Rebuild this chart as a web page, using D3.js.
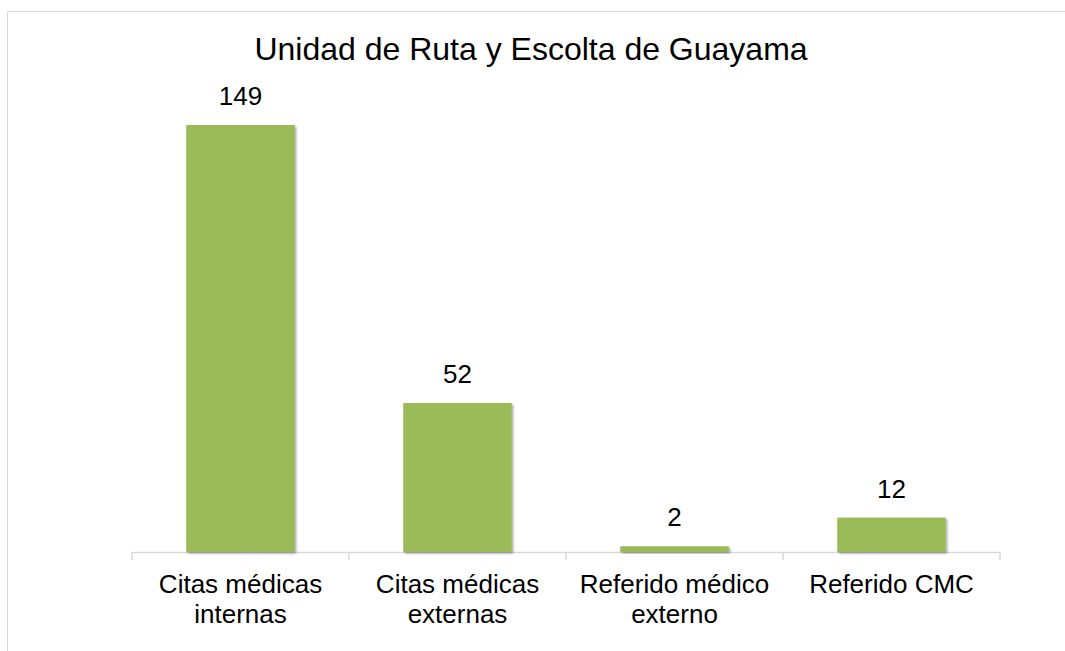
<!DOCTYPE html>
<html>
<head>
<meta charset="utf-8">
<script src="https://cdn.jsdelivr.net/npm/d3@7"></script>
<style>
  body { margin: 0; background: #fff; overflow: hidden; }
  svg { display: block; font-family: "Liberation Sans", Arial, sans-serif; }
</style>
</head>
<body>
<svg width="1065" height="651"></svg>
<script>
// chart data
var categories = [["Citas médicas", "internas"], ["Citas médicas", "externas"], ["Referido médico", "externo"], ["Referido CMC"]];
var values = [149, 52, 2, 12];
var title = "Unidad de Ruta y Escolta de Guayama";

var svg = d3.select("svg"),
    width = +svg.attr("width"),
    height = +svg.attr("height");

// soft shadow like the office chart bars
var defs = svg.append("defs");
defs.append("filter")
    .attr("id", "shadow")
    .attr("x", "-10%").attr("y", "-10%")
    .attr("width", "130%").attr("height", "130%")
    .append("feDropShadow")
    .attr("dx", 1.5).attr("dy", 1.5)
    .attr("stdDeviation", 1)
    .attr("flood-color", "#000")
    .attr("flood-opacity", 0.35);

// outer chart frame (only top and left edges visible)
svg.append("line")
    .attr("x1", 7.5).attr("x2", width)
    .attr("y1", 11.5).attr("y2", 11.5)
    .attr("stroke", "#d9d9d9");
svg.append("line")
    .attr("x1", 7.5).attr("x2", 7.5)
    .attr("y1", 11.5).attr("y2", height)
    .attr("stroke", "#d9d9d9");

var x = d3.scaleBand()
    .domain(d3.range(values.length))
    .range([132, 1000])
    .paddingInner(0.5)
    .paddingOuter(0.25);

var y = d3.scaleLinear()
    .domain([0, 149])
    .range([552, 125]);

svg.append("text")
    .attr("x", 531)
    .attr("y", 60)
    .attr("text-anchor", "middle")
    .attr("font-size", 32)
    .attr("fill", "#000")
    .text(title);

// x axis line + ticks between categories
var axis = svg.append("g").attr("stroke", "#d9d9d9").attr("stroke-width", 1.5);
axis.append("line")
    .attr("x1", x.range()[0]).attr("x2", x.range()[1])
    .attr("y1", y(0) + 0.5).attr("y2", y(0) + 0.5);
var bounds = d3.range(values.length + 1).map(function(i) { return x.range()[0] + i * x.step(); });
axis.selectAll(".tick")
    .data(bounds)
    .enter().append("line")
    .attr("x1", function(d) { return d; }).attr("x2", function(d) { return d; })
    .attr("y1", y(0)).attr("y2", y(0) + 8);

// bars
svg.append("g")
    .selectAll("rect")
    .data(values)
    .enter().append("rect")
    .attr("x", function(d, i) { return x(i); })
    .attr("y", function(d) { return y(d); })
    .attr("width", x.bandwidth())
    .attr("height", function(d) { return y(0) - y(d); })
    .attr("fill", "#9bbb59")
    .attr("filter", "url(#shadow)");

// value labels
svg.append("g")
    .selectAll("text")
    .data(values)
    .enter().append("text")
    .attr("x", function(d, i) { return x(i) + x.bandwidth() / 2; })
    .attr("y", function(d) { return y(d) - 20; })
    .attr("text-anchor", "middle")
    .attr("font-size", 26)
    .text(function(d) { return d; });

// category labels
var cat = svg.append("g")
    .selectAll("text")
    .data(categories)
    .enter().append("text")
    .attr("text-anchor", "middle")
    .attr("font-size", 26)
    .attr("x", function(d, i) { return x(i) + x.bandwidth() / 2; })
    .attr("y", 593);
cat.selectAll("tspan")
    .data(function(d) { return d; })
    .enter().append("tspan")
    .attr("x", function() { return d3.select(this.parentNode).attr("x"); })
    .attr("dy", function(d, i) { return i === 0 ? 0 : 30; })
    .text(function(d) { return d; });
</script>
</body>
</html>
